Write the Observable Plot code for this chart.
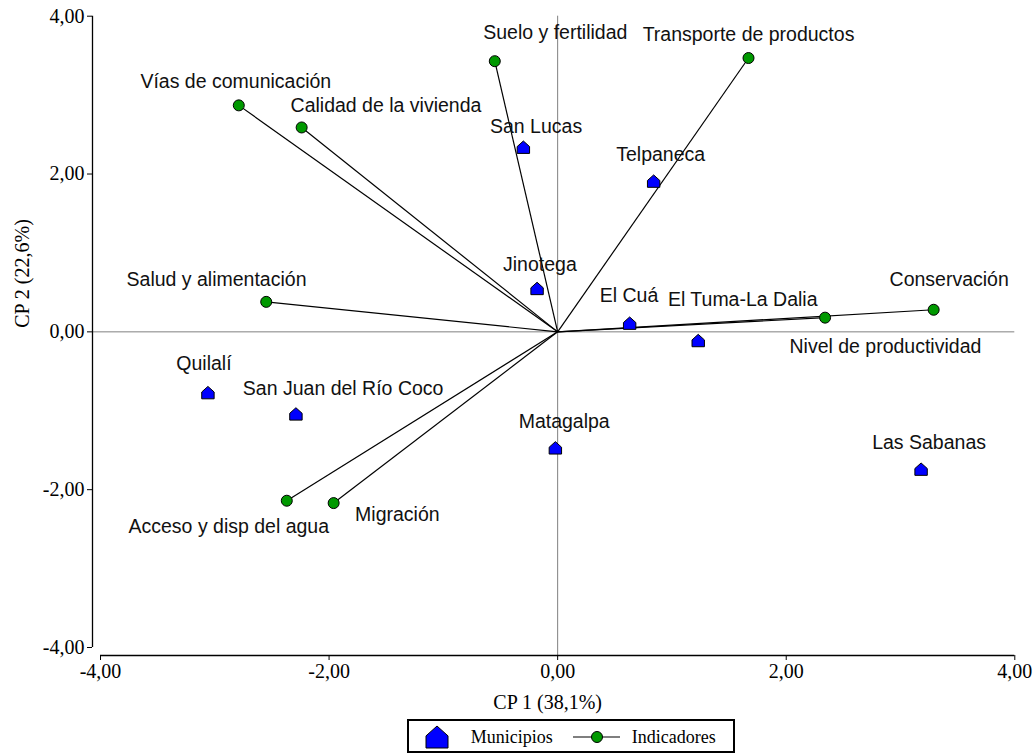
<!DOCTYPE html>
<html><head><meta charset="utf-8">
<script src="https://cdn.jsdelivr.net/npm/d3@7"></script>
<script src="https://cdn.jsdelivr.net/npm/@observablehq/plot@0.6"></script>
<style>
body{margin:0;background:#fff;}
#chart svg{display:block;}
#legend{display:block;margin-left:407px;margin-top:4px;}
</style></head><body>
<div id="chart"></div>
<div id="legend"></div>
<script>
// ---- data ----
const municipios = ["San Lucas","Telpaneca","Jinotega","El Cuá","El Tuma-La Dalia","Las Sabanas","Quilalí","San Juan del Río Coco","Matagalpa"];
const muniCP1 = [-0.30, 0.84, -0.18, 0.63, 1.23, 3.18, -3.06, -2.29, -0.02];
const muniCP2 = [2.34, 1.91, 0.55, 0.11, -0.11, -1.74, -0.77, -1.04, -1.47];
const indicadores = ["Vías de comunicación","Calidad de la vivienda","Suelo y fertilidad","Transporte de productos","Salud y alimentación","Nivel de productividad","Conservación","Acceso y disp del agua","Migración"];
const indCP1 = [-2.79, -2.24, -0.55, 1.67, -2.55, 2.34, 3.29, -2.37, -1.96];
const indCP2 = [2.87, 2.59, 3.43, 3.47, 0.38, 0.18, 0.28, -2.14, -2.17];
const xTicks = [-4, -2, 0, 2, 4];
const yTicks = [-4, -2, 0, 2, 4];
const xTitle = "CP 1 (38,1%)";
const yTitle = "CP 2 (22,6%)";
const legendLabels = ["Municipios", "Indicadores"];

// ---- layout (label offsets in px from the marker) ----
const labelOffset = {
  "San Lucas":[12.7,-20.6], "Telpaneca":[7,-26.2], "Jinotega":[2.8,-23.9], "El Cuá":[-0.6,-27.2],
  "El Tuma-La Dalia":[44.5,-41.2], "Las Sabanas":[8,-26.2], "Quilalí":[-4,-28.9],
  "San Juan del Río Coco":[47.2,-25.5], "Matagalpa":[8.8,-26.2],
  "Vías de comunicación":[-3,-23.7], "Calidad de la vivienda":[84.3,-22.2], "Suelo y fertilidad":[60.5,-28.5],
  "Transporte de productos":[0,-22.8], "Salud y alimentación":[-49.7,-22.2], "Nivel de productividad":[60.3,28.8],
  "Conservación":[15.5,-30.2], "Acceso y disp del agua":[-58,26.1], "Migración":[63.7,11.5]
};
const SANS = "'Liberation Sans', Arial, sans-serif";
const SERIF = "'Liberation Serif', 'Times New Roman', serif";
const BLUE = "#0000ff", GREEN = "#009900";

const fmt = d => d.toFixed(2).replace(".", ",");
const house = {
  draw(ctx, size) {
    const r = Math.sqrt(size / Math.PI);
    ctx.moveTo(0, -r);
    ctx.lineTo(r, -r * 0.1);
    ctx.lineTo(r, r);
    ctx.lineTo(-r, r);
    ctx.lineTo(-r, -r * 0.1);
    ctx.closePath();
  }
};

const muniRows = municipios.map((name, i) => ({name, x: muniCP1[i], y: muniCP2[i]}));
const indRows = indicadores.map((name, i) => ({name, x: indCP1[i], y: indCP2[i]}));

const labelMarks = [...muniRows, ...indRows].map(d =>
  Plot.text([d], {x: "x", y: "y", text: "name", dx: labelOffset[d.name][0], dy: labelOffset[d.name][1],
    fontFamily: SANS, fontSize: 19.5, fill: "#111", lineAnchor: "middle", textAnchor: "middle", ariaLabel: "lbl"})
);

const chart = Plot.plot({
  width: 1035, height: 715,
  marginLeft: 92, marginRight: 20.7, marginTop: 15.7, marginBottom: 60,
  style: {fontFamily: SERIF, fontSize: "20px", color: "black", background: "white"},
  x: {domain: [-4, 4], insetLeft: 8},
  y: {domain: [-4, 4], insetBottom: 8},
  marks: [
    Plot.ruleX([0], {stroke: "#808080", strokeWidth: 1}),
    Plot.ruleY([0], {stroke: "#808080", strokeWidth: 1}),
    Plot.link(indRows, {x1: () => 0, y1: () => 0, x2: "x", y2: "y", stroke: "black", strokeWidth: 1.2}),
    Plot.dot(indRows, {x: "x", y: "y", r: 5.5, fill: GREEN, stroke: "black", strokeWidth: 1}),
    Plot.dot(muniRows, {x: "x", y: "y", r: 6.2, symbol: house, fill: BLUE, stroke: "black", strokeWidth: 1}),
    ...labelMarks,
    Plot.ruleY([-4], {x1: -4, x2: 4, dy: 8, stroke: "black", strokeWidth: 1.3}),
    Plot.ruleX([-4], {y1: -4, y2: 4, dx: -8, stroke: "black", strokeWidth: 1.3}),
    Plot.axisX({ticks: xTicks, tickFormat: fmt, tickSize: 5, tickPadding: 3, label: null, fontSize: 20}),
    Plot.axisY({ticks: yTicks, tickFormat: fmt, tickSize: 5, tickPadding: 3, label: null, fontSize: 20}),
    Plot.text([xTitle], {text: d => d, frameAnchor: "bottom", dy: 47, dx: -6, lineAnchor: "middle", fontSize: 20}),
    Plot.text([yTitle], {text: d => d, frameAnchor: "left", rotate: -90, dx: -70, dy: -8, lineAnchor: "middle", fontSize: 20})
  ]
});
document.getElementById("chart").append(chart);

// white boxes behind the point labels
chart.querySelectorAll('g[aria-label="lbl"] text').forEach(t => {
  const b = t.getBBox();
  const r = document.createElementNS("http://www.w3.org/2000/svg", "rect");
  r.setAttribute("x", b.x - 1); r.setAttribute("y", b.y);
  r.setAttribute("width", b.width + 2); r.setAttribute("height", b.height);
  r.setAttribute("fill", "white"); r.setAttribute("stroke", "none");
  if (t.getAttribute("transform")) r.setAttribute("transform", t.getAttribute("transform"));
  t.parentNode.insertBefore(r, t);
});

// legend below the chart
const lg = d3.select("#legend").append("svg").attr("width", 328).attr("height", 34)
  .style("font-family", SERIF).style("font-size", "18px");
lg.append("rect").attr("x", 1).attr("y", 1).attr("width", 326).attr("height", 32)
  .attr("fill", "white").attr("stroke", "black").attr("stroke-width", 2);
const hs = 11;
lg.append("path").attr("transform", "translate(30,18)")
  .attr("d", `M0,${-hs}L${hs},${-hs*0.1}L${hs},${hs}L${-hs},${hs}L${-hs},${-hs*0.1}Z`)
  .attr("fill", BLUE).attr("stroke", "black").attr("stroke-width", 1);
lg.append("text").attr("x", 63.7).attr("y", 18).attr("dy", "0.32em").text(legendLabels[0]);
lg.append("line").attr("x1", 166).attr("x2", 213).attr("y1", 18).attr("y2", 18).attr("stroke", "black").attr("stroke-width", 1.2);
lg.append("circle").attr("cx", 190).attr("cy", 18).attr("r", 5.5).attr("fill", GREEN).attr("stroke", "black");
lg.append("text").attr("x", 224.7).attr("y", 18).attr("dy", "0.32em").text(legendLabels[1]);
</script>
</body></html>
